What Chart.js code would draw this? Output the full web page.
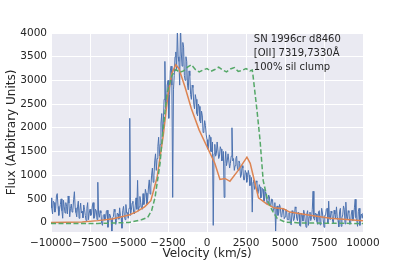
<!DOCTYPE html>
<html>
<head>
<meta charset="utf-8">
<script src="https://cdn.jsdelivr.net/npm/chart.js@4.4.0/dist/chart.umd.min.js"></script>
<style>
  html, body { margin: 0; padding: 0; background: #fff; }
</style>
</head>
<body>
<canvas id="specChart" width="404" height="273"></canvas>
<script>
// observed spectrum, sampled every 50 km/s from -10000 to 10000 (one row = 1000 km/s)
var fluxStart = -10000;
var fluxStep = 50;
var fluxValues = [
  520, 310, 180, 450, 420, 220, 300, 560, 610, 340, 150, 280, 380, 500, 250, 90, 470, 330, 200, 420,
  340, 180, 560, 410, 120, 300, 390, 220, 260, 480, 650, 310, 210, 120, 330, 450, 90, 260, 410, 200,
  240, 100, 370, 280, 150, 40, 300, 420, 60, 200, 280, 150, 180, 350, 420, 90, 130, 280, 250, 60,
  850, 200, 110, 250, 200, -20, -60, 150, 170, 50, 90, 240, 260, -100, 20, 180, 150, 60, -180, 100,
  120, 280, 230, -40, 40, 200, 180, 70, 310, 150, 100, -120, 250, 340, 150, 60, 380, 200, 210, 90,
  300, 2200, 150, 260, 410, 450, 200, 180, 350, 520, 280, 890, 240, 330, 550, 420, 300, 280, 610, 380,
  450, 700, 620, 380, 500, 750, 900, 600, 750, 1000, 1150, 850, 1000, 1300, 1450, 1100, 1350, 1600, 1800, 1400,
  1650, 2100, 2300, 1900, 2100, 2600, 3400, 2400, 2500, 2900, 3000, 2200, 2700, 3200, 3300, 2900, 530, 2800, 3100, 3500,
  3600, 3200, 4100, 3500, 3400, 2900, 4200, 3600, 3300, 3800, 3700, 3100, 3000, 3500, 3400, 2900, 2800, 3200, 3100, 2700,
  2600, 2900, 2850, 2500, 2400, 2700, 2600, 2300, 2250, 2500, 2450, 2150, 2100, 2350, 2250, 1900, 1950, 2150, 2050, 1850,
  1750, 1550, 1600, 1850, 1800, 1500, 1500, 1700, -60, 1450, 1650, 1400, 1450, 1700, 1700, 1350, 1400, 1600, 1550, 1300,
  1350, 1500, 530, 1250, 1500, 1200, 1300, 1450, 1450, 1150, 1250, 1400, 2000, 1300, 1350, 1100, 1200, 1350, 1400, 1150,
  1100, 1300, 1250, 950, 1000, 1200, 1150, 900, 900, 1100, 1050, 850, 950, 1100, 1000, 780, 800, 950, 220, 850,
  900, 700, 750, 880, 850, 600, 650, 800, 750, 520, 550, 720, 700, 450, 500, 650, 600, 380, 420, 580,
  550, 350, 380, 500, 480, 250, 300, 420, -180, 300, 350, 150, 200, 380, 320, 120, 150, 300, 280, 80,
  120, 280, 250, 60, 60, 200, 220, -20, -50, 250, 180, 40, 80, 330, 300, 90, 40, 220, 200, -60,
  -80, 200, 150, 30, 260, 180, 30, -100, 180, 250, -60, 120, 220, 40, 100, 280, 660, 90, 50, 200,
  180, 20, -40, 230, 250, -50, 80, 300, 200, 60, -100, 150, 150, 280, 300, -20, 450, 100, 60, 240,
  200, 30, -20, 260, 180, 80, 330, 120, 40, -90, 240, 300, -80, 100, 160, 350, 280, -30, 430, 120,
  70, 250, 210, -40, -30, 180, 260, 40, 120, 310, 490, 100, 50, -80, 230, 300, -60, 150, 180, 90,
  200
];

// smoothed model
var modelVel = [-10000, -8000, -7000, -6000, -5000, -4500, -4000, -3600, -3200, -2800, -2500, -2250, -2000, -1800,
  -1400, -1000, -500, 0, 500, 830, 1150, 1470, 2000, 2560, 2770, 3300, 3800, 4300, 4900, 5300, 6600, 7900, 10000];
var modelFlux = [0, 10, 40, 80, 160, 230, 330, 460, 950, 1850, 2700, 3150, 3330, 3250,
  2850, 2400, 1950, 1600, 1250, 910, 930, 870, 1100, 1380, 1250, 520, 400, 310, 290, 220, 155, 90, 35];

// 100% sil clump model
var clumpVel = [-10000, -7000, -5000, -4200, -3800, -3550, -3330, -3010, -2820, -2560, -2250, -2000, -1750, -1500,
  -1250, -1000, -750, -500, -250, 0, 250, 500, 750, 1000, 1250, 1500, 1750, 2000, 2250, 2500, 2750, 2900,
  2950, 3200, 3400, 3600, 3900, 4170, 4490, 5000, 6000, 8000, 10000];
var clumpFlux = [-20, -20, 0, 60, 110, 250, 530, 1250, 1950, 2730, 3100, 3230, 3170, 3200,
  3280, 3330, 3230, 3180, 3220, 3250, 3190, 3230, 3280, 3220, 3180, 3240, 3270, 3190, 3210, 3250, 3200, 3220,
  3100, 2380, 1740, 890, 450, 260, 90, 10, -10, -15, -20];

var xTicks = [-10000, -7500, -5000, -2500, 0, 2500, 5000, 7500, 10000];
var yTicks = [0, 500, 1000, 1500, 2000, 2500, 3000, 3500, 4000];
var noteLines = ['SN 1996cr d8460', '[OII] 7319,7330\u00c5', '100% sil clump'];

function pairs(xs, ys) {
    return ys.map(function(y, i) { return { x: xs[i], y: y }; });
}

var fluxPoints = fluxValues.map(function(y, i) { return { x: fluxStart + i * fluxStep, y: y }; });

var textColor = '#262626';
var tickFont = { family: 'DejaVu Sans', size: 10.5 };
var labelFont = { family: 'DejaVu Sans', size: 12 };

function minusSign(v) {
    return String(v).replace('-', '\u2212');
}

var plotBackground = {
    id: 'plotBackground',
    beforeDraw: function(chart) {
        var a = chart.chartArea;
        var ctx = chart.ctx;
        ctx.save();
        ctx.fillStyle = '#EAEAF2';
        ctx.fillRect(a.left, a.top, a.right - a.left, a.bottom - a.top);
        ctx.restore();
    }
};

var noteText = {
    id: 'noteText',
    afterDraw: function(chart) {
        var ctx = chart.ctx;
        var x = chart.scales.x.getPixelForValue(3000);
        var y = chart.scales.y.getPixelForValue(4000);
        ctx.save();
        ctx.fillStyle = textColor;
        ctx.font = '10px "DejaVu Sans"';
        ctx.textBaseline = 'middle';
        ctx.textAlign = 'left';
        noteLines.forEach(function(line, i) {
            ctx.fillText(line, x, y + 6 + i * 14);
        });
        ctx.restore();
    }
};

new Chart(document.getElementById('specChart').getContext('2d'), {
    type: 'line',
    data: {
        datasets: [
            { label: 'observed', data: fluxPoints, borderColor: '#4C72B0', borderWidth: 1, pointRadius: 0, order: 3 },
            { label: 'model', data: pairs(modelVel, modelFlux), borderColor: '#DD8452', borderWidth: 1.5, pointRadius: 0, order: 2 },
            { label: 'clump', data: pairs(clumpVel, clumpFlux), borderColor: '#55A868', borderWidth: 1.5, borderDash: [5, 2.5], pointRadius: 0, order: 1 }
        ]
    },
    options: {
        responsive: false,
        animation: false,
        devicePixelRatio: 1,
        layout: { padding: { left: 0, right: 41, top: 33, bottom: 0 } },
        plugins: { legend: { display: false }, tooltip: { enabled: false } },
        scales: {
            x: {
                type: 'linear',
                min: -10000,
                max: 10000,
                afterBuildTicks: function(scale) { scale.ticks = xTicks.map(function(v) { return { value: v }; }); },
                afterFit: function(scale) { scale.height = 41; },
                grid: { color: '#ffffff', lineWidth: 1, drawTicks: false },
                border: { display: false },
                ticks: { color: textColor, font: tickFont, padding: 5, maxRotation: 0, autoSkip: false, callback: minusSign },
                title: { display: true, text: 'Velocity (km/s)', color: textColor, font: labelFont, padding: { top: 0, bottom: 12 } }
            },
            y: {
                min: -200,
                max: 4000,
                afterBuildTicks: function(scale) { scale.ticks = yTicks.map(function(v) { return { value: v }; }); },
                afterFit: function(scale) { scale.width = 51; },
                grid: { color: '#ffffff', lineWidth: 1, drawTicks: false },
                border: { display: false },
                ticks: { color: textColor, font: tickFont, padding: 4, autoSkip: false, callback: minusSign },
                title: { display: true, text: 'Flux (Arbitrary Units)', color: textColor, font: labelFont, padding: { top: 5, bottom: 0 } }
            }
        }
    },
    plugins: [plotBackground, noteText]
});
</script>
</body>
</html>
